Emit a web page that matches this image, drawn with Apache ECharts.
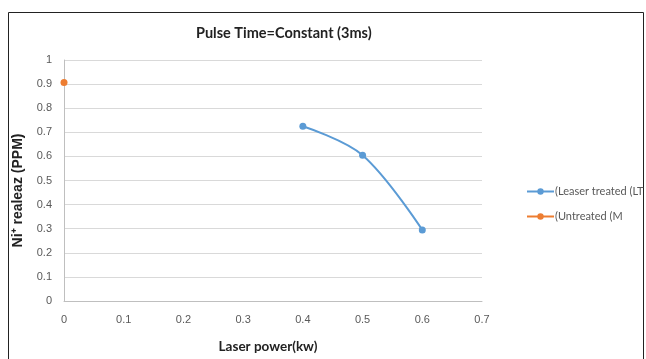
<!DOCTYPE html>
<html>
<head>
<meta charset="utf-8">
<script src="https://cdn.jsdelivr.net/npm/echarts@6/dist/echarts.min.js"></script>
<style>
  html, body { margin: 0; padding: 0; background: #fff; }
  #chart { width: 646px; height: 359px; }
</style>
</head>
<body>
<div id="chart"></div>
<script>
// data
const treatedPower = [0.4, 0.5, 0.6]
const treatedValues = [0.725, 0.605, 0.295]
const untreatedPower = [0]
const untreatedValues = [0.907]
const seriesNames = ['(Leaser treated (LT', '(Untreated (M']

const pairs = (xs, ys) => xs.map((x, i) => [x, ys[i]])

const chart = echarts.init(document.getElementById('chart'))
const tickFont = 'Liberation Sans Narrow, Arial Narrow, sans-serif'
const boldFont = 'Lato, Open Sans, sans-serif'

chart.setOption({
  animation: false,
  graphic: [{
    type: 'rect',
    shape: { x: 8.5, y: 12.5, width: 635, height: 400 },
    style: { fill: 'none', stroke: '#222', lineWidth: 1 },
    silent: true,
  }],
  title: {
    text: 'Pulse Time=Constant (3ms)',
    left: 191,
    top: 21,
    textStyle: { fontFamily: boldFont, fontWeight: 'bold', fontSize: 14.5, color: '#222' },
  },
  grid: { left: 64, right: 164, top: 60, bottom: 53 },
  legend: {
    orient: 'vertical',
    left: 521,
    top: 181,
    itemWidth: 27,
    itemHeight: 8,
    itemGap: 14,
    textStyle: { fontFamily: 'Lato, sans-serif', fontSize: 11, color: '#595959', padding: [0, 0, 0, -4] },
    data: seriesNames,
  },
  xAxis: {
    type: 'value',
    min: 0,
    max: 0.7,
    interval: 0.1,
    name: 'Laser power(kw)',
    nameLocation: 'middle',
    nameGap: 39,
    nameTextStyle: { fontFamily: boldFont, fontWeight: 'bold', fontSize: 13.5, color: '#222', padding: [0, 10, 0, 0] },
    axisLine: { lineStyle: { color: '#bfbfbf' } },
    axisTick: { show: false },
    splitLine: { show: false },
    axisLabel: { margin: 13, fontFamily: tickFont, fontSize: 11, color: '#595959' },
  },
  yAxis: {
    type: 'value',
    min: 0,
    max: 1,
    interval: 0.1,
    name: 'Ni⁺ realeaz (PPM)',
    nameLocation: 'middle',
    nameGap: 39,
    nameTextStyle: { fontFamily: 'Liberation Sans, Arial, sans-serif', fontWeight: 'bold', fontSize: 14, color: '#222', padding: [0, 20, 0, 0] },
    axisLine: { show: true, lineStyle: { color: '#bfbfbf' } },
    axisTick: { show: false },
    splitLine: { lineStyle: { color: '#d9d9d9' } },
    axisLabel: { margin: 12, fontFamily: tickFont, fontSize: 11, color: '#595959' },
  },
  series: [
    {
      name: seriesNames[0],
      type: 'line',
      smooth: 0.35,
      data: pairs(treatedPower, treatedValues),
      symbol: 'circle',
      symbolSize: 7,
      itemStyle: { color: '#5b9bd5' },
      lineStyle: { color: '#5b9bd5', width: 2 },
    },
    {
      name: seriesNames[1],
      type: 'line',
      data: pairs(untreatedPower, untreatedValues),
      symbol: 'circle',
      symbolSize: 7,
      itemStyle: { color: '#ed7d31' },
      lineStyle: { color: '#ed7d31', width: 2 },
    },
  ],
})
</script>
</body>
</html>
